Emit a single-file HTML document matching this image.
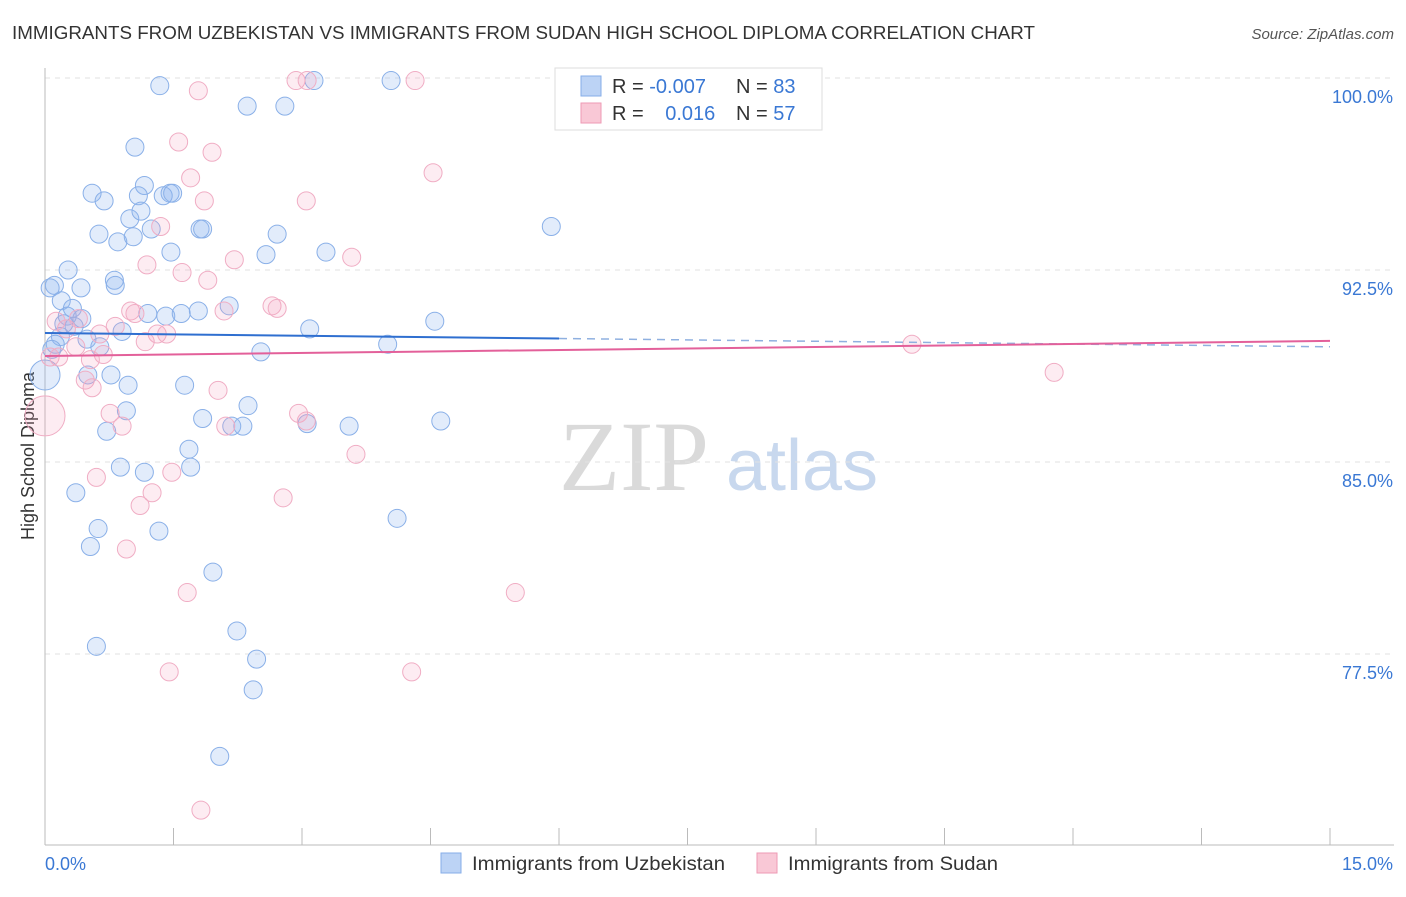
<!DOCTYPE html>
<html><head><meta charset="utf-8">
<style>
body{margin:0;background:#fff;font-family:"Liberation Sans",sans-serif;}
svg text{font-family:"Liberation Sans",sans-serif;}
</style></head>
<body>
<svg id="chart" width="1406" height="892" xmlns="http://www.w3.org/2000/svg">
<text x="12" y="39" font-size="18" fill="#333" textLength="1023" lengthAdjust="spacingAndGlyphs">IMMIGRANTS FROM UZBEKISTAN VS IMMIGRANTS FROM SUDAN HIGH SCHOOL DIPLOMA CORRELATION CHART</text>
<text x="1394" y="39" font-size="15" fill="#555" text-anchor="end" font-style="italic">Source: ZipAtlas.com</text>
<text transform="translate(34,456) rotate(-90)" font-size="18" fill="#333" text-anchor="middle">High School Diploma</text>
<g>
<text x="634" y="490" font-size="100" fill="#dadada" style="font-family:'Liberation Serif',serif" text-anchor="middle">ZIP</text>
<text x="802" y="490" font-size="72" fill="#c8d8ee" text-anchor="middle">atlas</text>
</g>
<g id="grid"></g>
<g id="axes"></g>
<g id="marks"></g>
<g>
<rect x="555" y="68" width="267" height="62" fill="#fff" stroke="#ddd"/>
<rect x="581" y="76" width="20" height="20" fill="#bcd3f5" stroke="#86aee8"/>
<text x="612" y="93" font-size="20" fill="#333">R = <tspan fill="#3a78d4">-0.007</tspan></text>
<text x="736" y="93" font-size="20" fill="#333">N = <tspan fill="#3a78d4">83</tspan></text>
<rect x="581" y="103" width="20" height="20" fill="#f9c8d6" stroke="#ee9ab4"/>
<text x="612" y="120" font-size="20" fill="#333">R = <tspan fill="#3a78d4" dx="16">0.016</tspan></text>
<text x="736" y="120" font-size="20" fill="#333">N = <tspan fill="#3a78d4">57</tspan></text>
</g>
<g>
<rect x="441" y="853" width="20" height="20" fill="#bcd3f5" stroke="#86aee8"/>
<text x="472" y="870" font-size="19.5" fill="#333" textLength="253" lengthAdjust="spacingAndGlyphs">Immigrants from Uzbekistan</text>
<rect x="757" y="853" width="20" height="20" fill="#f9c8d6" stroke="#ee9ab4"/>
<text x="788" y="870" font-size="19.5" fill="#333" textLength="210" lengthAdjust="spacingAndGlyphs">Immigrants from Sudan</text>
</g>
</svg>
<script>
const blueX=[1.34,2.36,2.80,3.14,4.04,1.05,0.55,0.69,1.16,1.46,1.38,1.09,1.49,0.99,1.12,1.24,0.63,0.85,1.03,1.81,1.84,1.47,2.58,2.71,3.28,5.91,0.27,0.11,0.06,0.42,0.81,0.82,0.19,0.32,0.26,0.43,0.34,0.22,0.18,0.90,1.20,1.41,1.59,1.79,2.15,3.09,4.55,0.12,0.08,0.49,0.64,2.52,4.00,0.0,0.50,0.77,0.97,1.63,2.37,0.95,0.72,1.84,2.18,2.31,3.06,3.55,4.62,1.68,1.70,0.88,1.16,0.36,0.62,1.33,0.53,4.11,1.96,2.24,0.60,2.47,2.43,2.04];
const blueY=[99.7,98.9,98.9,99.9,99.9,97.3,95.5,95.2,95.8,95.5,95.4,95.4,95.5,94.5,94.8,94.1,93.9,93.6,93.8,94.1,94.1,93.2,93.1,93.9,93.2,94.2,92.5,91.9,91.8,91.8,92.1,91.9,91.3,91.0,90.7,90.6,90.3,90.4,89.9,90.1,90.8,90.7,90.8,90.9,91.1,90.2,90.5,89.6,89.4,89.8,89.5,89.3,89.6,88.4,88.4,88.4,88.0,88.0,87.2,87.0,86.2,86.7,86.4,86.4,86.5,86.4,86.6,85.5,84.8,84.8,84.6,83.8,82.4,82.3,81.7,82.8,80.7,78.4,77.8,77.3,76.1,73.5];
const pinkX=[2.93,3.06,4.32,1.79,1.56,1.95,4.53,1.70,1.86,3.05,1.35,1.19,1.60,2.21,3.58,1.90,2.65,2.71,2.09,0.13,1.00,1.05,0.82,0.25,0.39,1.31,1.42,0.64,1.17,0.36,0.16,0.06,0.68,0.47,0.55,2.02,0.0,0.76,0.90,2.11,2.96,3.05,0.60,1.48,1.25,1.11,3.63,2.78,0.95,1.66,5.49,1.45,4.28,1.82,10.12,11.78,0.53];
const pinkY=[99.9,99.9,99.9,99.5,97.5,97.1,96.3,96.1,95.2,95.2,94.2,92.7,92.4,92.9,93.0,92.1,91.1,91.0,90.9,90.5,90.9,90.8,90.3,90.2,90.6,90.0,90.0,90.0,89.7,89.5,89.1,89.1,89.2,88.2,87.9,87.8,86.8,86.9,86.4,86.4,86.9,86.6,84.4,84.6,83.8,83.3,85.3,83.6,81.6,79.9,79.9,76.8,76.8,71.4,89.6,88.5,89.0];
const bigBlue=[53];
const bigPink=[36];
const blueTrend=[90.04,89.5];
const pinkTrend=[89.14,89.73];
const yTicks=[100,92.5,85,77.5];
const yTickLabels=["100.0%","92.5%","85.0%","77.5%"];
const xTicks=[0,1.5,3,4.5,6,7.5,9,10.5,12,13.5,15];

const NS="http://www.w3.org/2000/svg";
const sx=v=>45+v/15*1285;
const sy=v=>78+(100-v)*25.6;
function mk(tag,attrs,parent){const e=document.createElementNS(NS,tag);for(const k in attrs)e.setAttribute(k,attrs[k]);parent.appendChild(e);return e;}
const grid=document.getElementById('grid'),axes=document.getElementById('axes'),marks=document.getElementById('marks');
yTicks.forEach((t,i)=>{
 const l=mk('line',{x1:45,x2:1394,y1:sy(t),y2:sy(t),stroke:'#e2e2e2','stroke-dasharray':'5,5'},grid);
 
 
 const tx=mk('text',{x:1393,y:sy(t)+25,'font-size':18,fill:'#3a78d4','text-anchor':'end'},axes);
 tx.textContent=yTickLabels[i];
 
 
});
const ax=mk('line',{x1:45,x2:45,y1:68,y2:845,stroke:'#bbb'},axes);


const bx=mk('line',{x1:45,x2:1394,y1:845,y2:845,stroke:'#bbb'},axes);


xTicks.forEach(t=>{
 const l=mk('line',{x1:sx(t),x2:sx(t),y1:828,y2:845,stroke:'#bbb'},axes);
 
 
});
const x0=mk('text',{x:45,y:870,'font-size':18,fill:'#3a78d4'},axes);x0.textContent='0.0%';


const x1=mk('text',{x:1393,y:870,'font-size':18,fill:'#3a78d4','text-anchor':'end'},axes);x1.textContent='15.0%';



function pts(X,Y,big,fill,stroke,name){
 X.forEach((v,i)=>{
  const r=big.includes(i)?(name==='pink-point'?20:15):9;
  const c=mk('circle',{cx:sx(v),cy:sy(Y[i]),r:r,fill:fill,stroke:stroke,'stroke-width':1},marks);
  
  
 });
}
pts(blueX,blueY,bigBlue,'rgba(140,180,240,0.25)','#8ab0e8','blue-point');
pts(pinkX,pinkY,bigPink,'rgba(245,160,190,0.2)','#f0adc4','pink-point');
const bm=blueTrend[0]+(blueTrend[1]-blueTrend[0])*(6/15);
const b1=mk('line',{x1:sx(0),y1:sy(blueTrend[0]),x2:sx(6),y2:sy(bm),stroke:'#2f6fd0','stroke-width':2},marks);


const b2=mk('line',{x1:sx(6),y1:sy(bm),x2:sx(15),y2:sy(blueTrend[1]),stroke:'#8fb0e0','stroke-width':1.5,'stroke-dasharray':'8,6'},marks);


const p1=mk('line',{x1:sx(0),y1:sy(pinkTrend[0]),x2:sx(15),y2:sy(pinkTrend[1]),stroke:'#e3609a','stroke-width':2},marks);


</script>
</body></html>
